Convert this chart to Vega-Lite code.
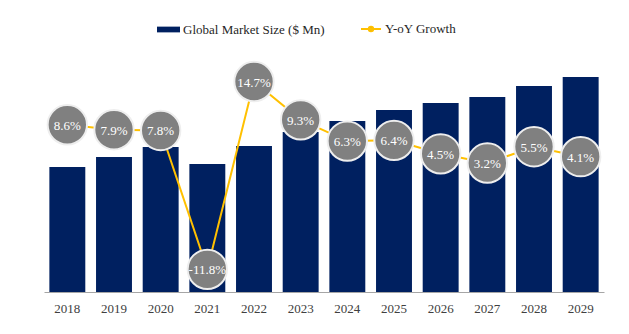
{
  "$schema": "https://vega.github.io/schema/vega-lite/v6.json",
  "width": 560,
  "height": 248,
  "autosize": {"type": "none"},
  "padding": {"left": 44, "top": 44, "right": 25, "bottom": 42},
  "background": "white",
  "config": {
    "view": {"stroke": null},
    "font": "Liberation Serif",
    "legend": {"padding": 0},
    "locale": {"number": {"decimal": ".", "thousands": ",", "grouping": [3], "currency": ["$", ""], "minus": "-"}}
  },
  "data": {
    "values": [
      {"year": "2018", "size": 1250, "growth": 0.086},
      {"year": "2019", "size": 1350, "growth": 0.079},
      {"year": "2020", "size": 1450, "growth": 0.078},
      {"year": "2021", "size": 1280, "growth": -0.118},
      {"year": "2022", "size": 1460, "growth": 0.147},
      {"year": "2023", "size": 1600, "growth": 0.093},
      {"year": "2024", "size": 1710, "growth": 0.063},
      {"year": "2025", "size": 1820, "growth": 0.064},
      {"year": "2026", "size": 1890, "growth": 0.045},
      {"year": "2027", "size": 1950, "growth": 0.032},
      {"year": "2028", "size": 2060, "growth": 0.055},
      {"year": "2029", "size": 2150, "growth": 0.041}
    ]
  },
  "encoding": {
    "x": {
      "field": "year",
      "type": "ordinal",
      "scale": {"paddingInner": 0.23, "paddingOuter": 0.115},
      "axis": {
        "title": null,
        "labelAngle": 0,
        "labelFont": "Liberation Serif",
        "labelFontSize": 13,
        "labelColor": "#404040",
        "labelPadding": 10,
        "ticks": false,
        "domainColor": "#a6a6a6",
        "domainWidth": 1
      }
    }
  },
  "layer": [
    {
      "mark": {"type": "bar", "color": "#002060"},
      "encoding": {
        "y": {
          "field": "size",
          "type": "quantitative",
          "scale": {"domain": [0, 2480], "nice": false},
          "axis": null
        },
        "fill": {
          "datum": "Global Market Size ($ Mn)",
          "type": "nominal",
          "scale": {"range": ["#002060"]},
          "legend": {
            "title": null,
            "orient": "none",
            "legendX": 113,
            "legendY": -26,
            "symbolType": "M-1,-0.25H1V0.25H-1Z",
            "symbolSize": 529,
            "symbolStrokeWidth": 0,
            "labelFont": "Liberation Serif",
            "labelFontSize": 13,
            "labelColor": "#262626",
            "labelOffset": 3
          }
        }
      }
    },
    {
      "mark": {"type": "line", "strokeWidth": 2},
      "encoding": {
        "y": {
          "field": "growth",
          "type": "quantitative",
          "scale": {"domain": [-0.15, 0.2], "nice": false},
          "axis": null
        },
        "stroke": {
          "datum": "Y-oY Growth",
          "type": "nominal",
          "scale": {"range": ["#FFC000"]},
          "legend": {
            "title": null,
            "orient": "none",
            "legendX": 316,
            "legendY": -26,
            "symbolType": "M-1,0H1M-0.22,0A0.22,0.22 0 1,0 0.22,0A0.22,0.22 0 1,0 -0.22,0Z",
            "symbolSize": 400,
            "symbolFillColor": "#808080",
            "symbolStrokeWidth": 2,
            "labelFont": "Liberation Serif",
            "labelFontSize": 13,
            "labelColor": "#262626",
            "labelOffset": 3
          }
        }
      }
    },
    {
      "mark": {"type": "point", "filled": true, "fill": "#808080", "stroke": "#eeeeee", "strokeWidth": 2, "size": 1550, "opacity": 1, "fillOpacity": 1},
      "encoding": {
        "y": {"field": "growth", "type": "quantitative", "scale": {"domain": [-0.15, 0.2], "nice": false}, "axis": null}
      }
    },
    {
      "mark": {"type": "text", "color": "white", "font": "Liberation Serif", "fontSize": 13, "baseline": "middle", "align": "center", "dy": 1},
      "encoding": {
        "y": {"field": "growth", "type": "quantitative", "scale": {"domain": [-0.15, 0.2], "nice": false}, "axis": null},
        "text": {"field": "growth", "type": "quantitative", "format": ".1%"}
      }
    }
  ],
  "resolve": {"scale": {"y": "independent", "fill": "independent", "stroke": "independent"}}
}
